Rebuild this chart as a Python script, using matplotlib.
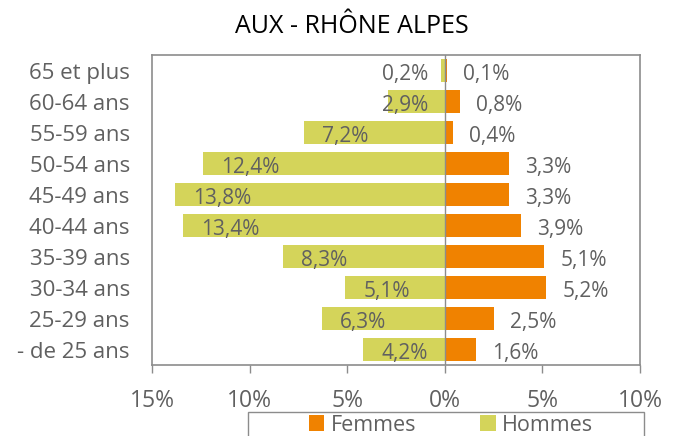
import matplotlib
matplotlib.use("Agg")
import matplotlib.pyplot as plt
from matplotlib.patches import Rectangle
from matplotlib.transforms import ScaledTranslation

categories = ["65 et plus", "60-64 ans", "55-59 ans", "50-54 ans", "45-49 ans",
              "40-44 ans", "35-39 ans", "30-34 ans", "25-29 ans", "- de 25 ans"]
hommes = [0.2, 2.9, 7.2, 12.4, 13.8, 13.4, 8.3, 5.1, 6.3, 4.2]
femmes = [0.1, 0.8, 0.4, 3.3, 3.3, 3.9, 5.1, 5.2, 2.5, 1.6]
xticks = [-15, -10, -5, 0, 5, 10]
xticklabels = ["15%", "10%", "5%", "0%", "5%", "10%"]
title = "AUX - RHÔNE ALPES"

c_h = "#d4d45a"
c_f = "#f08200"
gray_txt = "#606060"
frame = "#8c8c8c"

plt.rcParams['font.family'] = ['Open Sans', 'DejaVu Sans']

fig = plt.figure(figsize=(6.8, 4.36), dpi=100)
ax = fig.add_axes([152/680, 1-365/436, (640-152)/680, (365-55)/436])

y = list(range(len(categories)))
bh = ax.barh(y, [-v for v in hommes], height=0.73, color=c_h, label="Hommes", zorder=2)
bf = ax.barh(y, femmes, height=0.73, color=c_f, label="Femmes", zorder=2)
ax.axvline(0, color=frame, lw=1.0, zorder=3)

ax.set_xlim(-15, 10)
ax.set_ylim(len(categories)-0.5, -0.5)
ax.set_xticks(xticks)
ax.set_xticklabels(xticklabels)
ax.set_yticks(y)
ax.set_yticklabels(categories)
ax.tick_params(axis='y', length=0, pad=16, labelsize=16, labelcolor=gray_txt)
ax.tick_params(axis='x', length=6, width=1, color=frame, direction='out', pad=11,
               labelsize=16.5, labelcolor=gray_txt)
for s in ax.spines.values():
    s.set_color(frame)
    s.set_linewidth(1.2)

shift = ScaledTranslation(0, -8.5/100, fig.dpi_scale_trans)
for lab in ax.get_yticklabels():
    lab.set_va('baseline')
    lab.set_transform(lab.get_transform() + shift)

def fmt(v):
    return f"{v:.1f}".replace(".", ",") + "%"

for yi, v in zip(y, hommes):
    if v >= 4.5:
        ax.annotate(fmt(v), xy=(-v, yi), xytext=(13, -7), textcoords='offset points',
                    ha='left', va='baseline', fontsize=15, color=gray_txt, zorder=4)
    else:
        ax.annotate(fmt(v), xy=(0, yi), xytext=(-12, -7), textcoords='offset points',
                    ha='right', va='baseline', fontsize=15, color=gray_txt, zorder=4)
for yi, v in zip(y, femmes):
    ax.annotate(fmt(v), xy=(v, yi), xytext=(11.5, -7), textcoords='offset points',
                ha='left', va='baseline', fontsize=15, color=gray_txt, zorder=4)

fig.text(352/680, 1-33/436, title, ha='center', va='baseline', fontsize=18, color='black')

# legend frame
fig.patches.append(Rectangle((247.5/680, -0.05), (644-247.5)/680, 0.05 + 1-411.5/436,
                             transform=fig.transFigure, fill=False, edgecolor=frame, lw=1.0))
fig.legend(handles=[bf, bh], labels=["Femmes", "Hommes"], loc='center',
           bbox_to_anchor=(451/680, 1-425/436), ncol=2, frameon=False,
           handlelength=0.7, handleheight=0.7, handletextpad=0.3, columnspacing=3.0,
           fontsize=15.5, labelcolor=gray_txt, borderpad=0, borderaxespad=0)

fig.savefig("out.png", dpi=100)
